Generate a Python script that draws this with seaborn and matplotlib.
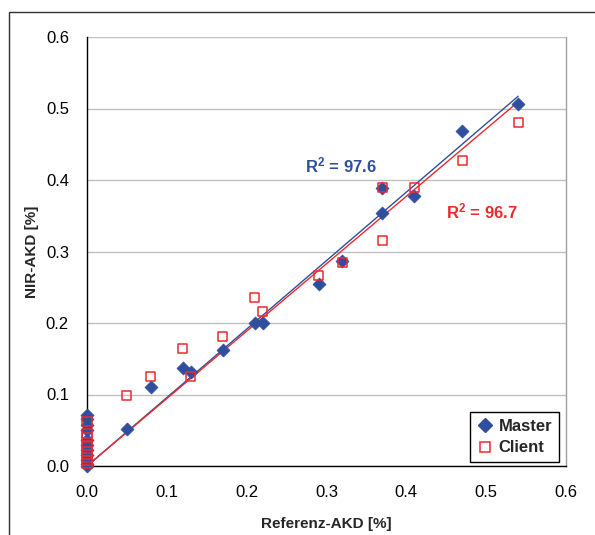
import numpy as np
import pandas as pd
import matplotlib
matplotlib.use("Agg")
import matplotlib.pyplot as plt
import seaborn as sns
from matplotlib.patches import Rectangle
from matplotlib.lines import Line2D

# ---- data ----
master_x = [0, 0, 0, 0, 0, 0, 0, 0, 0, 0, 0,
            0.05, 0.08, 0.12, 0.13, 0.17, 0.21, 0.22, 0.29, 0.32, 0.37, 0.37, 0.41, 0.47, 0.54]
master_y = [0.071, 0.066, 0.058, 0.050, 0.037, 0.030, 0.022, 0.015, 0.008, 0.003, 0.0,
            0.052, 0.111, 0.137, 0.132, 0.162, 0.200, 0.200, 0.254, 0.287, 0.389, 0.354, 0.378, 0.468, 0.506]
client_x = [0, 0, 0, 0, 0, 0, 0, 0,
            0.05, 0.08, 0.12, 0.13, 0.17, 0.21, 0.22, 0.29, 0.32, 0.37, 0.37, 0.41, 0.47, 0.54]
client_y = [0.062, 0.045, 0.040, 0.028, 0.020, 0.012, 0.007, 0.003,
            0.098, 0.125, 0.164, 0.125, 0.181, 0.236, 0.216, 0.267, 0.285, 0.390, 0.316, 0.390, 0.427, 0.480]
r2_master = "97.6"
r2_client = "96.7"
ticks = [0.0, 0.1, 0.2, 0.3, 0.4, 0.5, 0.6]
tick_labels = ["0.0", "0.1", "0.2", "0.3", "0.4", "0.5", "0.6"]

BLUE = "#2F4F9E"
RED = "#EC2B2E"

sns.set_theme(style="white")
plt.rcParams["font.family"] = ["Liberation Sans", "DejaVu Sans"]
plt.rcParams["mathtext.fontset"] = "custom"
plt.rcParams["mathtext.rm"] = "Liberation Sans"
plt.rcParams["mathtext.bf"] = "Liberation Sans:bold"
plt.rcParams["mathtext.default"] = "bf"

df_m = pd.DataFrame({"x": master_x, "y": master_y})
df_c = pd.DataFrame({"x": client_x, "y": client_y})

fig = plt.figure(figsize=(5.95, 5.35), dpi=100)
ax = fig.add_axes([87/595, 69/535, (566-87)/595, (466-37)/535])

# trend lines through origin
def slope0(x, y):
    x = np.asarray(x); y = np.asarray(y)
    return (x * y).sum() / (x * x).sum()

xs = np.array([0.0, max(master_x)])
ax.plot(xs, slope0(master_x, master_y) * xs, color=BLUE, lw=1.0, zorder=3)
ax.plot(xs, slope0(client_x, client_y) * xs, color=RED, lw=1.0, zorder=3)

sns.scatterplot(data=df_m, x="x", y="y", ax=ax, marker="D", s=44, color=BLUE,
                edgecolor=BLUE, linewidth=0.5, zorder=4, clip_on=False)
sns.scatterplot(data=df_c, x="x", y="y", ax=ax, marker="s", s=42, facecolor="none",
                edgecolor=RED, linewidth=1.1, zorder=5, clip_on=False)

ax.set_xlim(0, 0.6)
ax.set_ylim(0, 0.6)
ax.set_xticks(ticks)
ax.set_xticklabels(tick_labels)
ax.set_yticks(ticks)
ax.set_yticklabels(tick_labels)
ax.tick_params(axis="both", direction="out", length=5, width=1, color="black",
               labelsize=12, labelcolor="black")
ax.tick_params(axis="x", pad=9)
ax.tick_params(axis="y", pad=8)
ax.yaxis.grid(True, color="#C0C0C0", lw=1)
ax.xaxis.grid(False)
ax.set_axisbelow(True)

for s in ["left", "bottom"]:
    ax.spines[s].set_color("black")
    ax.spines[s].set_linewidth(1)
ax.spines["top"].set_visible(False)
ax.spines["right"].set_color("#A0A0A0")
ax.spines["right"].set_linewidth(1)

ax.set_xlabel("Referenz-AKD [%]", fontsize=11, fontweight="bold", labelpad=12)
ax.set_ylabel("NIR-AKD [%]", fontsize=11, fontweight="bold", labelpad=5)

ax.text(0.2725, 0.42, "R$^{2}$ = " + r2_master, color=BLUE, fontsize=12, fontweight="bold",
        ha="left", va="center")
ax.text(0.45, 0.356, "R$^{2}$ = " + r2_client, color=RED, fontsize=12, fontweight="bold",
        ha="left", va="center")

handles = [Line2D([], [], marker="D", ls="none", color=BLUE, markersize=7),
           Line2D([], [], marker="s", ls="none", markerfacecolor="none",
                  markeredgecolor=RED, markersize=7, markeredgewidth=1.1)]
leg = ax.legend(handles, ["Master", "Client"], loc="lower right",
                bbox_to_anchor=(0.9854, 0.0093), borderaxespad=0, frameon=True, fancybox=False,
                edgecolor="black", framealpha=1, prop={"weight": "bold", "size": 12},
                handletextpad=0.3, handlelength=1.0, borderpad=0.4, labelspacing=0.4)
leg.get_frame().set_linewidth(1)

fig.add_artist(Rectangle((9/595, -0.2), 2.0, 1.2 - 12/535, transform=fig.transFigure,
                         fill=False, edgecolor="#303030", lw=1, clip_on=False))

fig.savefig("out.png", dpi=100)
